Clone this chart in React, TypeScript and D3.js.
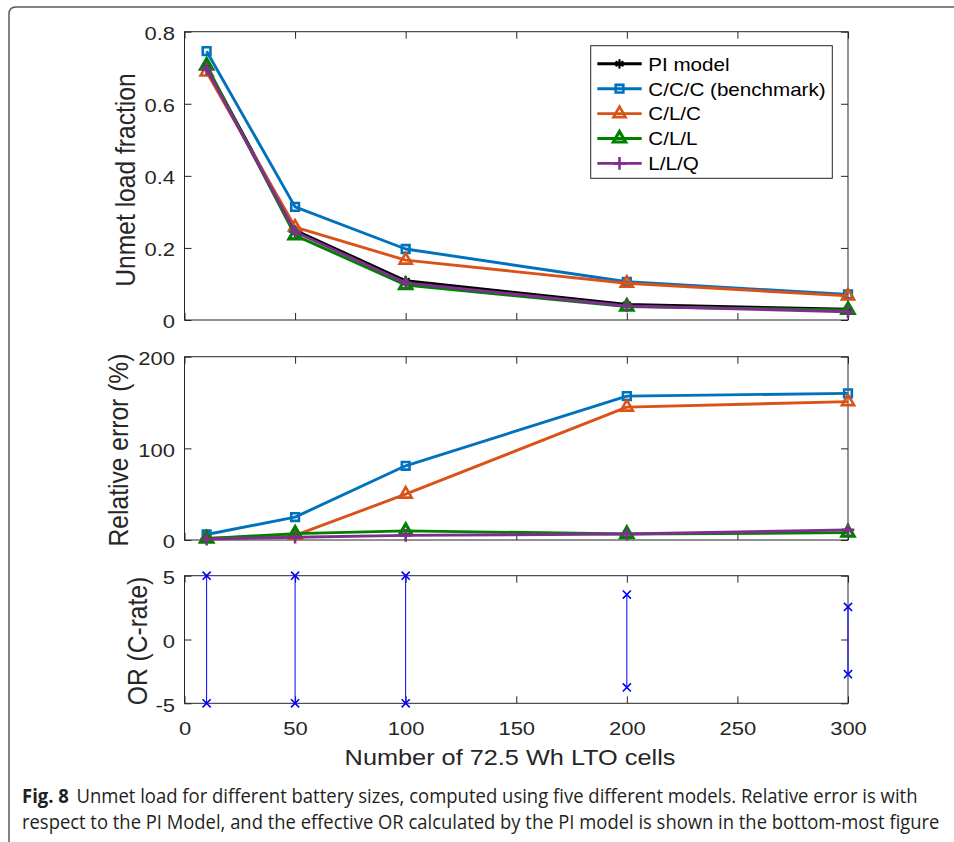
import * as d3 from "d3";
import React, { useEffect, useRef } from "react";

// battery sizes (number of 72.5 Wh LTO cells)
const cells = [10, 50, 100, 200, 300];
const xTicks = [0, 50, 100, 150, 200, 250, 300];

const seriesNames = ["PI model", "C/C/C (benchmark)", "C/L/C", "C/L/L", "L/L/Q"];

// unmet load fraction
const unmetPI = [0.702, 0.249, 0.109, 0.043, 0.03];
const unmetCCC = [0.746, 0.314, 0.197, 0.106, 0.071];
const unmetCLC = [0.688, 0.258, 0.166, 0.102, 0.067];
const unmetCLL = [0.706, 0.235, 0.097, 0.037, 0.028];
const unmetLLQ = [0.697, 0.245, 0.103, 0.039, 0.023];

// relative error (%) vs PI model
const errCCC = [6, 25, 81, 157, 160];
const errCLC = [2, 5, 50, 145, 151];
const errCLL = [1.5, 7, 10, 6.5, 8];
const errLLQ = [1, 3, 5, 6.5, 11];

// effective OR (C-rate)
const orUpper = [5, 5, 5, 3.52, 2.55];
const orLower = [-5, -5, -5, -3.76, -2.72];

const topTicks = [0, 0.2, 0.4, 0.6, 0.8];
const midTicks = [0, 100, 200];
const botTicks = [-5, 0, 5];

const captionBold = "Fig. 8";
const caption1 = "Unmet load for different battery sizes, computed using five different models. Relative error is with";
const caption2 = "respect to the PI Model, and the effective OR calculated by the PI model is shown in the bottom-most figure";

const styles = [
  { color: "#000000", symbol: d3.symbolAsterisk, size: 60, sw: 2.2 },
  { color: "#0072BD", symbol: d3.symbolSquare2, size: 75, sw: 2.6 },
  { color: "#D95319", symbol: d3.symbolTriangle2, size: 105, sw: 2.6 },
  { color: "#008000", symbol: d3.symbolTriangle2, size: 105, sw: 3.2 },
  { color: "#7E2F8E", symbol: d3.symbolPlus, size: 55, sw: 2.6 },
];

const FONT = "'Liberation Sans', Arial, Helvetica, sans-serif";
const AXIS = "#262626";
const SQ = 0.87; // vertical squash of the original figure

export default function App() {
  const ref = useRef<SVGSVGElement>(null);

  useEffect(() => {
    const svg = d3.select(ref.current);
    svg.selectAll("*").remove();

    const x = d3.scaleLinear().domain([0, 300]).range([184.5, 848]);
    const yTop = d3.scaleLinear().domain([0, 0.8]).range([320, 31.7]);
    const yMid = d3.scaleLinear().domain([0, 200]).range([540, 356.7]);
    const yBot = d3.scaleLinear().domain([-5, 5]).range([703.3, 575.7]);

    // outer figure border
    svg.append("path")
      .attr("d", "M9,842 L9,14 Q9,7 16,7 L954,7")
      .attr("fill", "none")
      .attr("stroke", "#5a5a5a")
      .attr("stroke-width", 1.5);

    const label = (txt: string, px: number, py: number, size: number, anchor: string, rotate = false) =>
      svg.append("text")
        .attr("transform", `translate(${px},${py}) scale(1,${SQ})${rotate ? " rotate(-90)" : ""}`)
        .attr("font-family", FONT)
        .attr("font-size", size)
        .attr("text-anchor", anchor)
        .attr("fill", AXIS)
        .text(txt);

    const frame = (y: d3.ScaleLinear<number, number>, yVals: number[], fmt: (d: number) => string, xLabels: boolean) => {
      const [y0, y1] = y.range();
      const [x0, x1] = x.range();
      const g = svg.append("g").attr("color", AXIS).attr("font-family", FONT);

      const xb = g.append("g").attr("transform", `translate(0,${y0})`)
        .call(d3.axisBottom(x).tickValues(xTicks).tickSizeInner(-7).tickSizeOuter(0)
          .tickFormat(xLabels ? (d) => String(d) : () => ""));
      xb.select(".domain").remove();
      xb.selectAll("text")
        .attr("y", 0).attr("dy", 0)
        .attr("font-size", 22)
        .attr("transform", `translate(0,32) scale(1,${SQ})`);

      const xt = g.append("g").attr("transform", `translate(0,${y1})`)
        .call(d3.axisTop(x).tickValues(xTicks).tickSizeInner(-7).tickSizeOuter(0).tickFormat(() => ""));
      xt.select(".domain").remove();

      const yl = g.append("g").attr("transform", `translate(${x0},0)`)
        .call(d3.axisLeft(y).tickValues(yVals).tickSizeInner(-7).tickSizeOuter(0).tickFormat((d) => fmt(d as number)));
      yl.select(".domain").remove();
      yl.selectAll("text")
        .attr("x", 0).attr("dy", 0)
        .attr("font-size", 22)
        .attr("transform", `translate(-9.5,7.8) scale(1,${SQ})`);

      const yr = g.append("g").attr("transform", `translate(${x1},0)`)
        .call(d3.axisRight(y).tickValues(yVals).tickSizeInner(-7).tickSizeOuter(0).tickFormat(() => ""));
      yr.select(".domain").remove();

      g.append("rect")
        .attr("x", x0).attr("y", y1)
        .attr("width", x1 - x0).attr("height", y0 - y1)
        .attr("fill", "none")
        .attr("stroke", AXIS)
        .attr("stroke-width", 1);
    };

    const series = (y: d3.ScaleLinear<number, number>, vals: number[], s: typeof styles[0]) => {
      const line = d3.line<number>().x((_, i) => x(cells[i])).y((d) => y(d));
      svg.append("path")
        .attr("d", line(vals))
        .attr("fill", "none")
        .attr("stroke", s.color)
        .attr("stroke-width", 2.9)
        .attr("stroke-linejoin", "round");
      svg.append("g").selectAll("path").data(vals).join("path")
        .attr("transform", (d, i) => `translate(${x(cells[i])},${y(d)})`)
        .attr("d", d3.symbol().type(s.symbol).size(s.size)())
        .attr("fill", "none")
        .attr("stroke", s.color)
        .attr("stroke-width", s.sw);
    };

    // top panel: unmet load fraction
    frame(yTop, topTicks, (d) => (d === 0 ? "0" : d3.format(".1f")(d)), false);
    [unmetPI, unmetCCC, unmetCLC, unmetCLL, unmetLLQ].forEach((v, i) => series(yTop, v, styles[i]));
    label("Unmet load fraction", 135, 180, 28.3, "middle", true);

    // legend
    const lg = svg.append("g");
    lg.append("rect")
      .attr("x", 590.7).attr("y", 45.7)
      .attr("width", 241.6).attr("height", 132.6)
      .attr("fill", "#fff")
      .attr("stroke", AXIS)
      .attr("stroke-width", 1);
    seriesNames.forEach((name, i) => {
      const cy = 63.8 + i * 24.9;
      const s = styles[i];
      lg.append("line")
        .attr("x1", 597.3).attr("x2", 641.7)
        .attr("y1", cy).attr("y2", cy)
        .attr("stroke", s.color).attr("stroke-width", 2.9);
      lg.append("path")
        .attr("transform", `translate(619.5,${cy})`)
        .attr("d", d3.symbol().type(s.symbol).size(s.size)())
        .attr("fill", "none")
        .attr("stroke", s.color)
        .attr("stroke-width", s.sw);
      lg.append("text")
        .attr("transform", `translate(648.3,${cy + 6.8}) scale(1,${SQ})`)
        .attr("font-family", FONT)
        .attr("font-size", 20.6)
        .attr("fill", "#000")
        .text(name);
    });

    // middle panel: relative error
    frame(yMid, midTicks, (d) => String(d), false);
    [errCCC, errCLC, errCLL, errLLQ].forEach((v, i) => series(yMid, v, styles[i + 1]));
    label("Relative error (%)", 128, 450, 28.3, "middle", true);

    // bottom panel: OR range
    frame(yBot, botTicks, (d) => String(d), true);
    const times = d3.symbol().type(d3.symbolTimes).size(45)();
    cells.forEach((c, i) => {
      svg.append("line")
        .attr("x1", x(c)).attr("x2", x(c))
        .attr("y1", yBot(orLower[i])).attr("y2", yBot(orUpper[i]))
        .attr("stroke", "#0000ff").attr("stroke-width", 1);
      [orLower[i], orUpper[i]].forEach((v) => {
        svg.append("path")
          .attr("transform", `translate(${x(c)},${yBot(v)})`)
          .attr("d", times)
          .attr("fill", "none")
          .attr("stroke", "#0000ff")
          .attr("stroke-width", 1.6);
      });
    });
    label("OR (C-rate)", 147, 641, 28.3, "middle", true);
    label("Number of 72.5 Wh LTO cells", 510, 765, 25.3, "middle");

    // caption, squeezed horizontally to the width of the original condensed face
    const capFont = "'Open Sans', 'Noto Sans', sans-serif";
    const fitLine = (py: number, target: number) => {
      const t = svg.append("text")
        .attr("x", 0).attr("y", 0)
        .attr("font-family", capFont)
        .attr("font-size", 19.5)
        .attr("fill", "#231f20");
      return { t, place: () => {
        const len = (t.node() as SVGTextElement).getComputedTextLength();
        t.attr("transform", `translate(22,${py}) scale(${target / len},1)`);
      } };
    };
    const l1 = fitLine(803, 888);
    l1.t.append("tspan").attr("font-weight", "bold").text(captionBold);
    l1.t.append("tspan").attr("dx", 8).text(caption1);
    l1.place();
    const l2 = fitLine(828.5, 918);
    l2.t.text(caption2);
    l2.place();
  }, []);

  return (
    <svg
      ref={ref}
      width={954}
      height={842}
      style={{ position: "absolute", left: 0, top: 0, background: "#fff" }}
    />
  );
}
